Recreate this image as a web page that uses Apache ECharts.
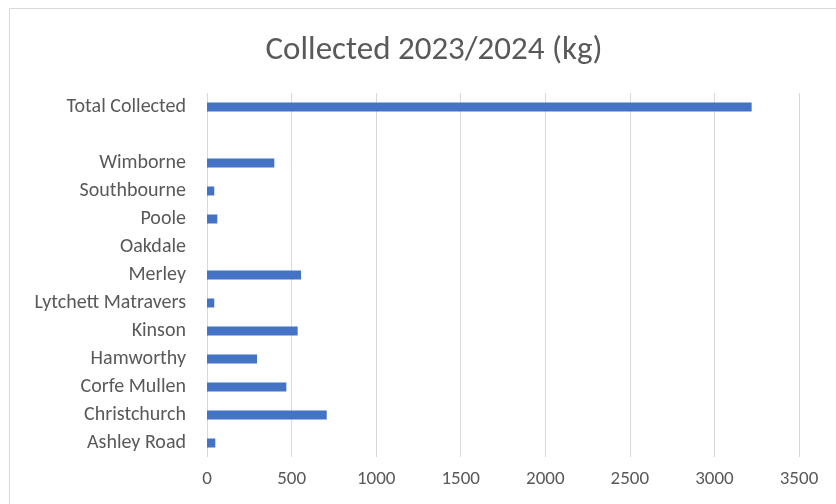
<!DOCTYPE html>
<html>
<head>
<meta charset="utf-8">
<script src="https://cdn.jsdelivr.net/npm/echarts@6/dist/echarts.min.js"></script>
<style>html,body{margin:0;padding:0;background:#fff}#c{width:836px;height:504px}</style>
</head>
<body>
<div id="c"></div>
<script>
const categories = ['Ashley Road','Christchurch','Corfe Mullen','Hamworthy','Kinson','Lytchett Matravers','Merley','Oakdale','Poole','Southbourne','Wimborne','','Total Collected'];
const values = [49, 708, 469, 296, 536, 43, 556, 0, 61, 43, 398, null, 3220];
const xTicks = { min: 0, max: 3500, interval: 500 };
const titleText = 'Collected 2023/2024 (kg)';

const chart = echarts.init(document.getElementById('c'), null, {renderer:'canvas'});
const font = 'Carlito, Calibri, Lato, sans-serif';
chart.setOption({
  animation: false,
  graphic: [{type:'rect', shape:{x:9.5,y:8.5,width:900,height:600}, style:{fill:'none', stroke:'#d9d9d9', lineWidth:1}, silent:true}],
  title: {text: titleText, left: 429, textAlign: 'center', top: 29, textStyle:{fontFamily: font, fontSize: 33, fontWeight:'normal', color:'#595959'}},
  grid: {left: 207, right: 37, top: 93, bottom: 47, containLabel: false},
  xAxis: {type:'value', min: xTicks.min, max: xTicks.max, interval: xTicks.interval,
    axisLine:{show:false}, axisTick:{show:false},
    splitLine:{lineStyle:{color:'#d9d9d9', width:1}},
    axisLabel:{color:'#595959', fontFamily: font, fontSize: 19, margin: 13, formatter: v => String(v)}},
  yAxis: {type:'category', data: categories,
    axisLine:{show:false}, axisTick:{show:false},
    axisLabel:{color:'#595959', fontFamily: font, fontSize: 20, margin: 21}},
  series: [{type:'bar', data: values, barWidth: 9, itemStyle:{color:'#4472C4'}}]
});
</script>
</body>
</html>
